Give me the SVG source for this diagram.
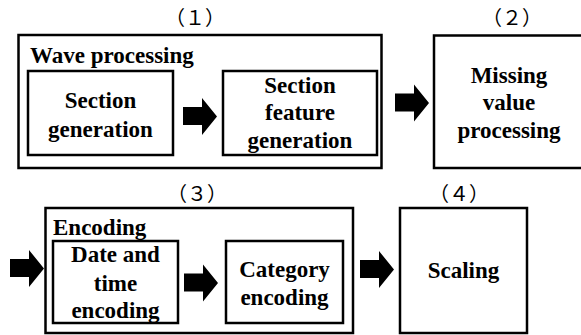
<svg xmlns="http://www.w3.org/2000/svg" width="581" height="335" viewBox="0 0 581 335">
<defs>
<polygon id="arrow" points="0,9 19,9 19,0 34,18.5 19,37 19,27 0,27" fill="#000"/>
</defs>
<rect width="581" height="335" fill="#fff"/>
<g font-family="Liberation Serif" font-weight="bold" font-size="23" fill="#000">
<g id="step1">
<text x="195" y="25" text-anchor="middle" font-family="Noto Sans CJK JP" font-weight="normal" font-size="20">（１）</text>
<rect x="18.5" y="35" width="363" height="133" fill="none" stroke="#000" stroke-width="2.5"/>
<text x="30" y="63">Wave processing</text>
</g>
<g id="section-generation" text-anchor="middle">
<rect x="28" y="71" width="145" height="84" fill="none" stroke="#000" stroke-width="2.5"/>
<text x="100.5" y="108">Section</text>
<text x="100.5" y="137">generation</text>
</g>
<g id="section-feature-generation" text-anchor="middle">
<text x="300" y="93">Section</text>
<text x="300" y="120">feature</text>
<text x="300" y="148">generation</text>
<rect x="223" y="71" width="154" height="84" fill="none" stroke="#000" stroke-width="2.5"/>
</g>
<g id="step2" text-anchor="middle">
<text x="512" y="25" font-family="Noto Sans CJK JP" font-weight="normal" font-size="20">（２）</text>
<rect x="434" y="35.5" width="150" height="132.5" fill="none" stroke="#000" stroke-width="2.5"/>
<text x="509" y="83">Missing</text>
<text x="509" y="110">value</text>
<text x="509" y="138">processing</text>
</g>
<g id="step3">
<text x="197" y="201" text-anchor="middle" font-family="Noto Sans CJK JP" font-weight="normal" font-size="20">（３）</text>
<rect x="45.5" y="208" width="307.5" height="125" fill="none" stroke="#000" stroke-width="2.5"/>
<text x="53" y="235">Encoding</text>
</g>
<g id="date-time-encoding" text-anchor="middle">
<text x="115.5" y="262">Date and</text>
<text x="115.5" y="291">time</text>
<text x="115.5" y="318">encoding</text>
<rect x="53" y="241" width="125" height="82" fill="none" stroke="#000" stroke-width="2.5"/>
</g>
<g id="category-encoding" text-anchor="middle">
<rect x="226" y="241" width="117" height="82" fill="none" stroke="#000" stroke-width="2.5"/>
<text x="284.5" y="277">Category</text>
<text x="284.5" y="305">encoding</text>
</g>
<g id="step4" text-anchor="middle">
<text x="459" y="201" font-family="Noto Sans CJK JP" font-weight="normal" font-size="20">（４）</text>
<rect x="400" y="208" width="127" height="125" fill="none" stroke="#000" stroke-width="2.5"/>
<text x="463.5" y="278">Scaling</text>
</g>
</g>
<g id="connectors">
<use href="#arrow" x="183" y="98"/>
<use href="#arrow" x="395" y="84.5"/>
<use href="#arrow" x="10" y="250"/>
<use href="#arrow" x="184" y="264.5"/>
<use href="#arrow" x="360" y="251"/>
</g>
</svg>
